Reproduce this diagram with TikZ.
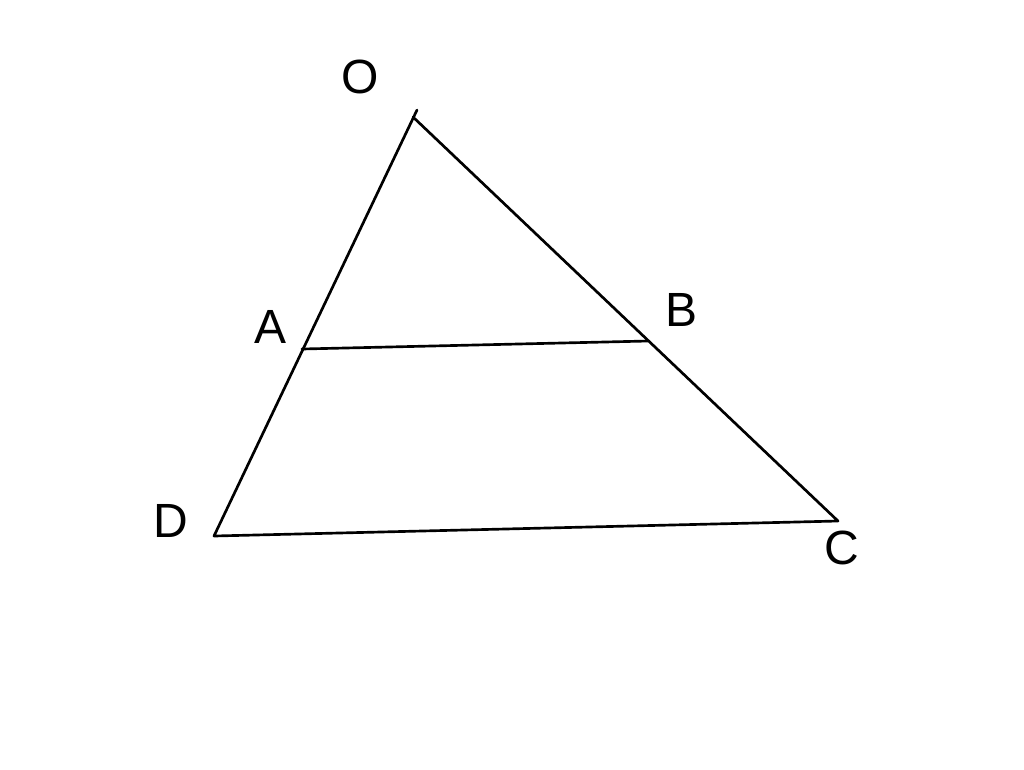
\documentclass[tikz,border=0pt]{standalone}
\usepackage{fontspec}
\setmainfont{Liberation Sans}
\usepackage{tikz}
\usetikzlibrary{positioning}
\tikzset{side/.style={line width=2pt, line cap=round, line join=round}}
\tikzset{vlabel/.style={font=\fontsize{36}{40}\selectfont, inner sep=0pt}}

\begin{document}
\begin{tikzpicture}[x=0.75pt,y=-0.75pt]
\useasboundingbox[fill=white] (0,0) rectangle (1024,769);
\coordinate (O) at (413,117);
\coordinate (Otip) at (417,110);
\coordinate (A) at (302,349);
\coordinate (B) at (648,341);
\coordinate (D) at (214,536);
\coordinate (C) at (838,521);
\node[vlabel] (lo) at (360,77) {O};
\node[vlabel] (la) at (271,327) {A};
\node[vlabel] (lb) at (681,310) {B};
\node[vlabel] (ld) at (171,521) {D};
\node[vlabel] (lc) at (842,548) {C};
\draw[side] (Otip) -- (D) -- (C) -- (O);
\draw[side] (A) -- (B);
\end{tikzpicture}
\end{document}
